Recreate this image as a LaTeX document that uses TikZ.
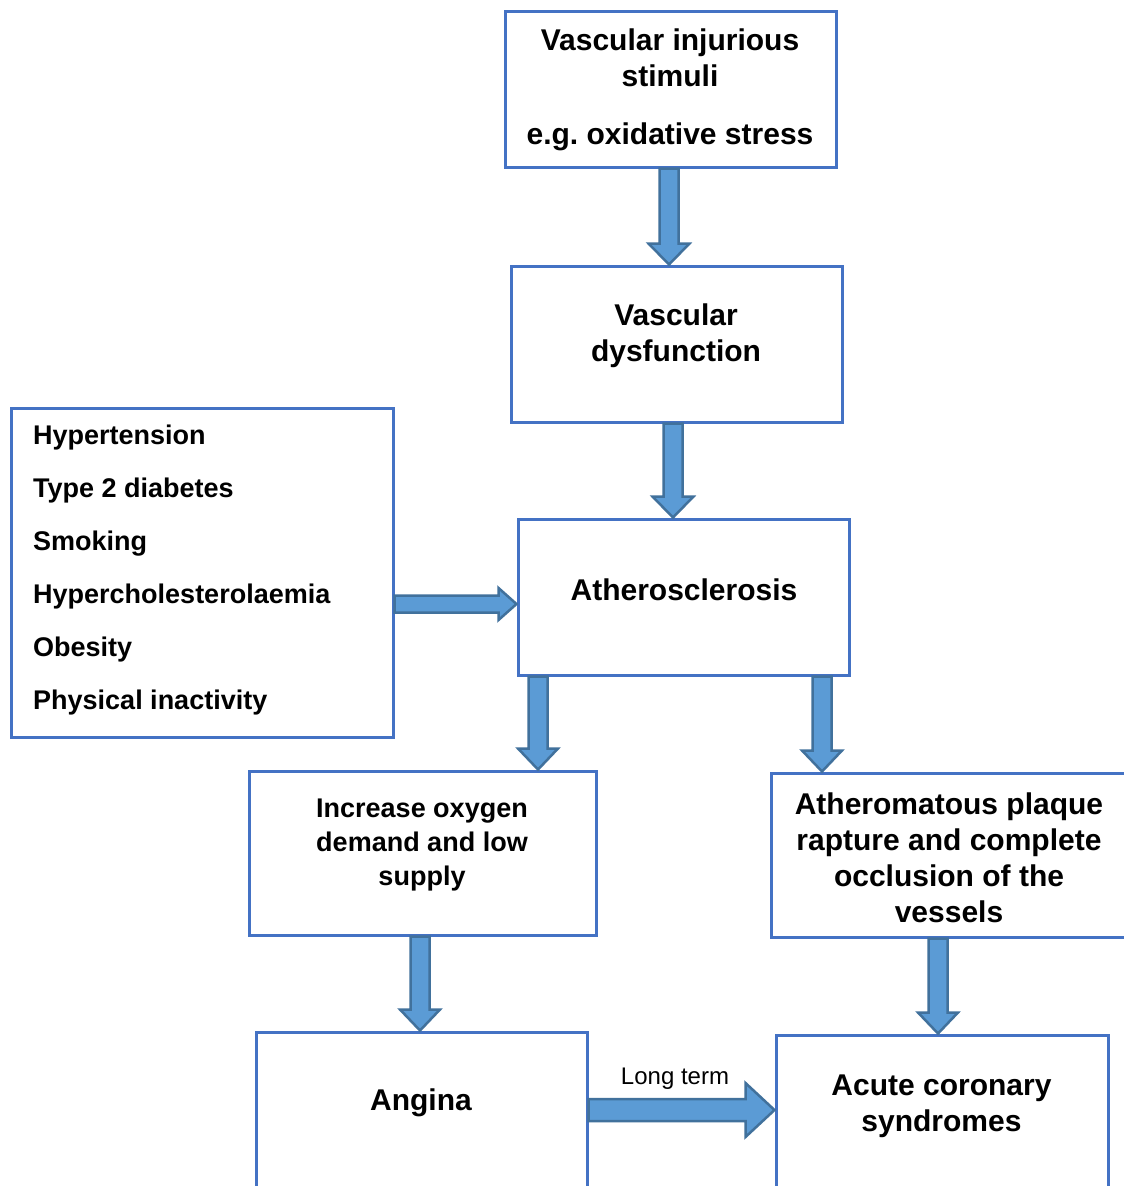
\documentclass[tikz,border=0pt]{standalone}
\usepackage{fontspec}
\setmainfont{Liberation Sans}
\usetikzlibrary{calc}
\frenchspacing
\definecolor{boxblue}{HTML}{4472C4}
\definecolor{arrfill}{HTML}{5B9BD5}
\definecolor{arrline}{HTML}{41719C}
\tikzset{
  box/.style={draw=boxblue, line width=3pt, fill=white, inner sep=0pt, rectangle},
  barrow/.style={fill=arrfill, draw=arrline, line width=2.5pt, line join=miter},
  bigtxt/.style={font=\fontsize{30}{36}\selectfont\bfseries, align=center, inner sep=0pt},
  midtxt/.style={font=\fontsize{27}{34}\selectfont\bfseries, align=center, inner sep=0pt},
  listtxt/.style={font=\fontsize{27}{53}\selectfont\bfseries, align=left, inner sep=0pt},
  smalltxt/.style={font=\fontsize{24}{28}\selectfont, inner sep=0pt}
}
% vertical block arrow: from node, to node, x (px), shaft half, head half, head length
\newcommand\varrow[6]{%
  \draw[barrow] let \p1=(#1.south), \p2=(#2.north) in
   (#3pt-#4pt,\y1) -- (#3pt+#4pt,\y1) -- (#3pt+#4pt,\y2+#6pt) -- (#3pt+#5pt,\y2+#6pt)
   -- (#3pt,\y2) -- (#3pt-#5pt,\y2+#6pt) -- (#3pt-#4pt,\y2+#6pt) -- cycle;}
% horizontal block arrow: from node, to node, y (px), shaft half, head half, head length
\newcommand\harrow[6]{%
  \draw[barrow] let \p1=(#1.east), \p2=(#2.west) in
   (\x1,-#3pt+#4pt) -- (\x2-#6pt,-#3pt+#4pt) -- (\x2-#6pt,-#3pt+#5pt) -- (\x2,-#3pt)
   -- (\x2-#6pt,-#3pt-#5pt) -- (\x2-#6pt,-#3pt-#4pt) -- (\x1,-#3pt-#4pt) -- cycle;}
\begin{document}
\begin{tikzpicture}[x=1pt,y=-1pt]
\useasboundingbox (0,0) rectangle (1124,1186);
\fill[white] (0,0) rectangle (1124,1186);
\clip (0,0) rectangle (1124,1186);

% boxes
\node[box, minimum width=331pt, minimum height=156pt] (vis) at (670.5,89) {};
\node[box, minimum width=331pt, minimum height=156pt] (vdys) at (676.5,344) {};
\node[box, minimum width=382pt, minimum height=329pt] (risk) at (202,572.5) {};
\node[box, minimum width=331pt, minimum height=156pt] (ath) at (683.5,597) {};
\node[box, minimum width=347pt, minimum height=164pt] (inc) at (422.5,853) {};
\node[box, minimum width=364pt, minimum height=164pt] (plaq) at (953,855) {};
\node[box, minimum width=331pt, minimum height=268pt] (ang) at (421.5,1166) {};
\node[box, minimum width=332pt, minimum height=265pt] (acs) at (942,1167.5) {};

% texts
\node[bigtxt] (tvis) at (670,90) {Vascular injurious\\stimuli\\[22pt]e.g. oxidative stress};
\node[bigtxt] (tvdys) at (676,336) {Vascular\\dysfunction};
\node[listtxt, anchor=west] (trisk) at (33,570) {Hypertension\\Type 2 diabetes\\Smoking\\Hypercholesterolaemia\\Obesity\\Physical inactivity};
\node[bigtxt] (tath) at (684,590) {Atherosclerosis};
\node[midtxt] (tinc) at (422,845) {Increase oxygen\\demand and low\\supply};
\node[bigtxt] (tplaq) at (949,858) {Atheromatous plaque\\rapture and complete\\occlusion of the\\vessels};
\node[bigtxt] (tang) at (421,1103) {Angina};
\node[bigtxt] (tacs) at (941.5,1106) {Acute coronary\\syndromes};
\node[smalltxt] (tlong) at (675,1079) {Long term};

% arrows
\varrow{vis}{vdys}{669}{9.5}{20.5}{21}
\varrow{vdys}{ath}{673}{9.5}{20.5}{21}
\harrow{risk}{ath}{604}{8.5}{16}{18}
\varrow{ath}{inc}{538}{9.5}{20}{21}
\varrow{ath}{plaq}{822}{9.5}{20}{21}
\varrow{inc}{ang}{420}{9.5}{20}{21}
\varrow{plaq}{acs}{938}{9.5}{20}{21}
\harrow{ang}{acs}{1110}{11}{27}{29}
\end{tikzpicture}
\end{document}
